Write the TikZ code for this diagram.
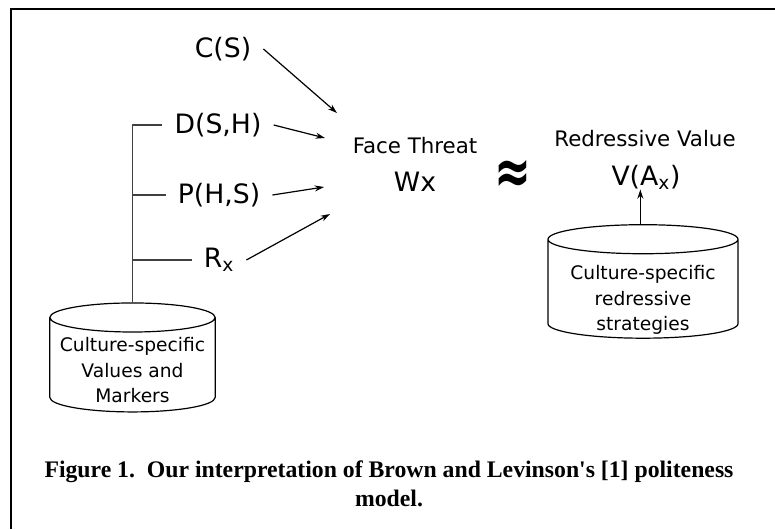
\documentclass[tikz,border=0pt]{standalone}
\usepackage{fontspec}
\usepackage{graphicx}
\setmainfont{DejaVu Sans}
\newfontfamily\capfont{Liberation Serif}
\usetikzlibrary{shapes.geometric, arrows.meta, positioning}

% text of a store, dropped below the top rim; reports a fixed half height
\newcommand{\storelabel}[3]{\raisebox{#1}[#2][#2]{\begin{tabular}{@{}c@{}}#3\end{tabular}}}

\begin{document}
\begin{tikzpicture}[
  x=0.75pt, y=-0.75pt,
  factor/.style={font=\fontsize{20}{24}\selectfont, inner sep=9pt},
  heading/.style={font=\fontsize{16}{19}\selectfont, inner sep=0pt},
  term/.style={font=\fontsize{20}{24}\selectfont, inner sep=0pt},
  store/.style={draw, cylinder, shape border rotate=90, aspect=0.2,
    font=\fontsize{14}{19}\selectfont, line width=0.9pt, inner sep=0pt},
  feed/.style={-{Stealth[length=7pt,width=4.5pt]}, line width=0.9pt},
  tick/.style={line width=0.9pt, black!75}
]
\useasboundingbox (0,0) rectangle (775,529);

% Frame
\draw[line width=1.9pt] (775,9) -- (11,9) -- (11,529);

% Factors
\node[factor] (cs)  at (223,49)  {C(S)};
\node[factor] (dsh) at (218,125) {D(S,H)};
\node[factor] (phs) at (219,195) {P(H,S)};
\node[factor] (rx)  at (219,260) {R\textsubscript{x}};

% Culture stores
\node[store, minimum width=124pt, minimum height=79.5pt] (lstore) at (132.5,365)
  {\storelabel{-9pt}{24.3pt}{Culture-specific\\Values and\\Markers}};
\node[store, minimum width=142.5pt, minimum height=79pt] (rstore) at (643,289)
  {\storelabel{-12pt}{26pt}{Culture-specific\\redressive\\strategies}};

% Face threat and redressive value
\node[heading] (ft)  at (415,146) {Face Threat};
\node[term]    (wx)  at (415,182) {Wx};
\node          (apx) at (513,177) {\scalebox{1.1}[1.6]{\fontsize{30}{30}\selectfont\bfseries ≈}};
\node[heading] (rv)  at (645,139) {Redressive Value};
\node[term]    (vax) at (646,177) {V(A\textsubscript{x})};

% Arrow ends
\coordinate (t1) at (337,113);
\coordinate (t2) at (325,138);
\coordinate (t3) at (324,187);
\coordinate (t4) at (330,214);

\draw[feed] (cs.east)  -- (t1);
\draw[feed] (dsh.east) -- (t2);
\draw[feed] (phs.east) -- (t3);
\draw[feed] (rx.east)  -- (t4);

% Bracket to the values store
\draw[tick] (lstore.north) -- (lstore.north |- dsh.west) -- (dsh.west);
\draw[tick] (lstore.north |- phs.west) -- (phs.west);
\draw[tick] (lstore.north |- rx.west) -- (rx.west);

\draw[feed] ([xshift=-2pt]rstore.north) -- ([xshift=-2pt]rstore.north |- vax.south);

% Caption
\node[font=\capfont\bfseries\fontsize{17.8}{21.5}\selectfont, align=center] (cap) at (389,484)
  {Figure 1.\ \ Our interpretation of Brown and Levinson's [1] politeness\\model.};

\end{tikzpicture}
\end{document}
